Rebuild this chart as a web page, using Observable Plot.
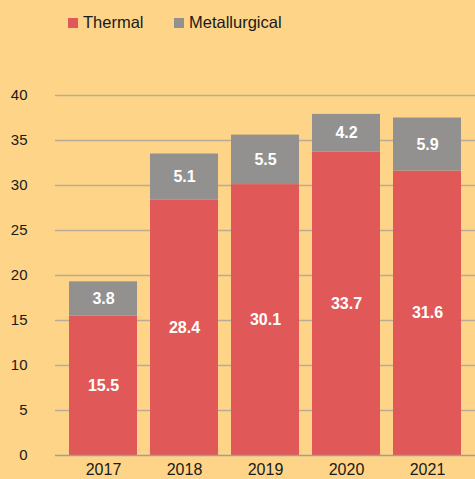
<!DOCTYPE html>
<html>
<head>
<meta charset="utf-8">
<script src="https://cdn.jsdelivr.net/npm/d3@7"></script>
<script src="https://cdn.jsdelivr.net/npm/@observablehq/plot@0.6"></script>
<style>
  html, body { margin: 0; padding: 0; background: #FDD488; }
  body { width: 475px; height: 479px; overflow: hidden; font-family: "Liberation Sans", Arial, sans-serif; }
  #legend { height: 45px; position: relative; }
  .item { position: absolute; top: 13px; font-size: 16.5px; color: #1a1a1a; display: flex; align-items: center; }
  .sw { width: 10px; height: 10px; display: inline-block; margin-right: 5px; }
  svg { display: block; }
</style>
</head>
<body>
<div id="legend"></div>
<div id="chart"></div>
<script>
const years = ["2017", "2018", "2019", "2020", "2021"];
const thermal = [15.5, 28.4, 30.1, 33.7, 31.6];
const metallurgical = [3.8, 5.1, 5.5, 4.2, 5.9];
const seriesNames = ["Thermal", "Metallurgical"];
const seriesColors = ["#E05858", "#939190"];
const yTicks = [0, 5, 10, 15, 20, 25, 30, 35, 40];

const data = [];
years.forEach((yr, i) => {
  data.push({year: yr, type: "Thermal", value: thermal[i]});
  data.push({year: yr, type: "Metallurgical", value: metallurgical[i]});
});

// legend
const legend = document.getElementById("legend");
const legendX = [68, 174];
seriesNames.forEach((name, i) => {
  const d = document.createElement("div");
  d.className = "item";
  d.style.left = legendX[i] + "px";
  d.innerHTML = `<span class="sw" style="background:${seriesColors[i]}"></span>${name}`;
  legend.appendChild(d);
});

const chart = Plot.plot({
  width: 475,
  height: 434,
  marginLeft: 55,
  marginRight: 0,
  marginTop: 50,
  marginBottom: 24,
  style: {background: "transparent", fontFamily: "Liberation Sans, Arial, sans-serif"},
  x: {domain: years, paddingInner: 0.155, paddingOuter: 0.155, label: null},
  y: {domain: [0, 40], label: null},
  color: {domain: seriesNames, range: seriesColors},
  marks: [
    Plot.ruleY(yTicks.filter(t => t > 0), {stroke: "#B9AC95", strokeWidth: 1.5}),
    Plot.barY(data, Plot.stackY({x: "year", y: "value", fill: "type", z: "type"})),
    Plot.ruleY([0], {stroke: "#A39D93", strokeWidth: 1.5}),
    Plot.text(data, Plot.stackY({x: "year", y: "value", z: "type", text: d => d.value.toFixed(1), fill: "white", fontWeight: "bold", fontSize: 16})),
    Plot.axisY({ticks: yTicks, tickSize: 0, tickPadding: 28, fontSize: 15, color: "#1a1a1a", label: null}),
    Plot.axisX({tickSize: 0, tickPadding: 8, fontSize: 16, color: "#1a1a1a", label: null})
  ]
});
document.getElementById("chart").appendChild(chart);
</script>
</body>
</html>
